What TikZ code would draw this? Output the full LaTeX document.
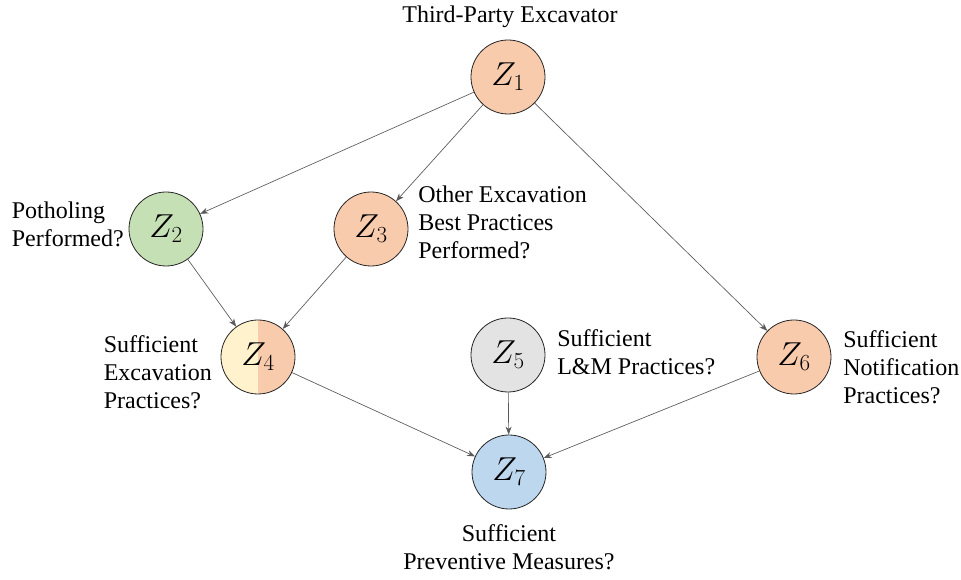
\documentclass[tikz,border=0pt]{standalone}
\usepackage{fontspec}
\setmainfont{Liberation Serif}
\usepackage{tikz}
\usetikzlibrary{arrows.meta, positioning}
\definecolor{PeachFill}{HTML}{F8CBAD}
\definecolor{GreenFill}{HTML}{C5E0B4}
\definecolor{GreyFill}{HTML}{E4E3E3}
\definecolor{BlueFill}{HTML}{BDD7EE}
\definecolor{CreamFill}{HTML}{FFF2CC}
\definecolor{EdgeGrey}{HTML}{595959}
\tikzset{
  % Node styles
  varnode/.style={circle, draw=black!85, line width=0.6pt, minimum size=55.5pt, inner sep=0pt, font=\fontsize{23}{26}\selectfont},
  splitnode/.style={varnode, path picture={
      \fill[CreamFill] (path picture bounding box.south west) rectangle (path picture bounding box.north);
      \fill[PeachFill] (path picture bounding box.south) rectangle (path picture bounding box.north east);}},
  labeltext/.style={inner sep=0pt, align=left, font=\fontsize{18}{21}\selectfont},
  % Arrow styles
  arrow/.style={-{Stealth[length=6pt, width=4.5pt]}, EdgeGrey, line width=0.5pt}
}

\begin{document}
\begin{tikzpicture}[x=0.75pt, y=-0.75pt]
  \useasboundingbox (0,0) rectangle (961,580);

  % Variables
  \node[varnode, fill=PeachFill] (z1) at (508,77) {$Z_1$};
  \node[varnode, fill=GreenFill] (z2) at (166,229) {$Z_2$};
  \node[varnode, fill=PeachFill] (z3) at (371,229) {$Z_3$};
  \node[splitnode] (z4) at (258,357) {$Z_4$};
  \node[varnode, fill=GreyFill] (z5) at (508,355) {$Z_5$};
  \node[varnode, fill=PeachFill] (z6) at (794,357) {$Z_6$};
  \node[varnode, fill=BlueFill] (z7) at (509,472) {$Z_7$};

  % Labels
  \node[labeltext, align=center] (t1) at (510,17) {Third-Party Excavator};
  \node[labeltext, anchor=east] (t2) at (124,224) {Potholing\\Performed?};
  \node[labeltext, anchor=west] (t3) at (418,222) {Other Excavation\\Best Practices\\Performed?};
  \node[labeltext, anchor=east] (t4) at (212,372) {Sufficient\\Excavation\\Practices?};
  \node[labeltext, anchor=west] (t5) at (557,352) {Sufficient\\L\&M Practices?};
  \node[labeltext, anchor=west] (t6) at (843,367) {Sufficient\\Notification\\Practices?};
  \node[labeltext, align=center] (t7) at (509,547) {Sufficient\\Preventive Measures?};

  % Edges
  \draw[arrow] (z1) -- (z2);
  \draw[arrow] (z1) -- (z3);
  \draw[arrow] (z1) -- (z6);
  \draw[arrow] (z2) -- (z4);
  \draw[arrow] (z3) -- (z4);
  \draw[arrow] (z4) -- (z7);
  \draw[arrow] (z5) -- (z7);
  \draw[arrow] (z6) -- (z7);
\end{tikzpicture}
\end{document}
